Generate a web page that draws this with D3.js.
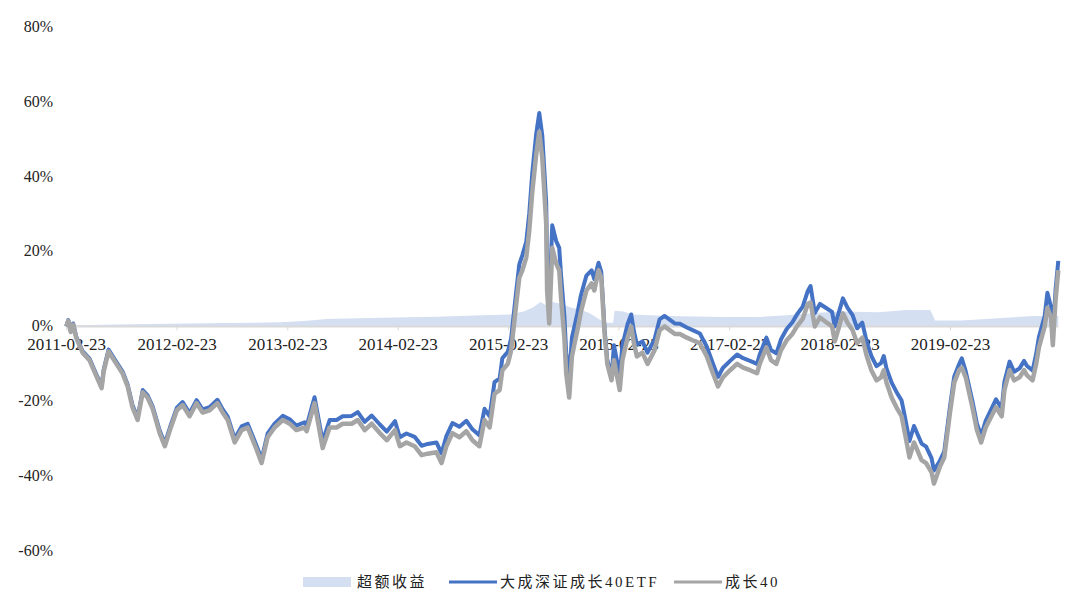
<!DOCTYPE html>
<html>
<head>
<meta charset="utf-8">
<script src="https://cdn.jsdelivr.net/npm/d3@7"></script>
<style>
  body { margin: 0; background: #fff; }
  text { font-family: "Liberation Serif", "Noto Sans CJK SC", serif; fill: #222; }
</style>
</head>
<body>
<script>
'use strict';

// legend names
let seriesNames = ["超额收益", "大成深证成长40ETF", "成长40"];

// y tick values (percent)
let yTicks = [80, 60, 40, 20, 0, -20, -40, -60];

// x tick labels
let xLabels = ["2011-02-23", "2012-02-23", "2013-02-23", "2014-02-23", "2015-02-23",
  "2016-02-23", "2017-02-23", "2018-02-23", "2019-02-23"];

// trading dates sampled from the chart
let dates = [
  "2011-02-23", "2011-03-02", "2011-03-10", "2011-03-18", "2011-03-28", "2011-04-18", "2011-05-11", "2011-05-27",
  "2011-06-20", "2011-06-27", "2011-07-13", "2011-08-08", "2011-08-28", "2011-09-14", "2011-09-30", "2011-10-17",
  "2011-11-03", "2011-11-19", "2011-12-06", "2011-12-29", "2012-01-15", "2012-02-01", "2012-02-24", "2012-03-14",
  "2012-04-06", "2012-04-29", "2012-05-19", "2012-06-11", "2012-07-07", "2012-07-24", "2012-08-10", "2012-09-02",
  "2012-09-25", "2012-10-15", "2012-11-14", "2012-11-30", "2012-12-20", "2013-01-12", "2013-02-08", "2013-03-03",
  "2013-03-25", "2013-04-21", "2013-04-28", "2013-05-24", "2013-06-20", "2013-07-13", "2013-08-05", "2013-08-25",
  "2013-09-24", "2013-10-14", "2013-11-06", "2013-11-29", "2013-12-26", "2014-01-18", "2014-02-14", "2014-03-02",
  "2014-03-24", "2014-04-20", "2014-05-13", "2014-06-02", "2014-07-01", "2014-07-18", "2014-08-03", "2014-08-23",
  "2014-09-15", "2014-10-08", "2014-10-28", "2014-11-20", "2014-12-07", "2014-12-24", "2015-01-09", "2015-01-26",
  "2015-02-04", "2015-02-22", "2015-03-05", "2015-03-22", "2015-04-01", "2015-04-11", "2015-04-24", "2015-05-04",
  "2015-05-14", "2015-05-27", "2015-06-06", "2015-06-16", "2015-06-29", "2015-07-02", "2015-07-09", "2015-07-19",
  "2015-08-01", "2015-08-11", "2015-08-17", "2015-08-28", "2015-09-03", "2015-09-13", "2015-09-22", "2015-10-10",
  "2015-10-22", "2015-11-09", "2015-11-26", "2015-12-05", "2015-12-19", "2015-12-28", "2016-01-08", "2016-01-17",
  "2016-01-31", "2016-02-08", "2016-02-27", "2016-03-07", "2016-03-24", "2016-04-05", "2016-04-14", "2016-04-24",
  "2016-05-12", "2016-05-29", "2016-06-21", "2016-07-08", "2016-07-24", "2016-08-10", "2016-08-27", "2016-09-13",
  "2016-10-06", "2016-10-25", "2016-11-18", "2016-12-11", "2016-12-31", "2017-01-17", "2017-02-02", "2017-02-26",
  "2017-03-21", "2017-04-10", "2017-05-03", "2017-05-26", "2017-06-04", "2017-06-26", "2017-07-11", "2017-07-29",
  "2017-08-13", "2017-09-01", "2017-09-20", "2017-10-05", "2017-10-24", "2017-11-10", "2017-11-19", "2017-12-03",
  "2017-12-20", "2018-01-12", "2018-01-29", "2018-02-07", "2018-03-06", "2018-03-21", "2018-04-07", "2018-04-22",
  "2018-05-09", "2018-05-24", "2018-06-08", "2018-06-25", "2018-07-10", "2018-07-19", "2018-07-28", "2018-08-14",
  "2018-08-30", "2018-09-16", "2018-09-25", "2018-10-12", "2018-10-27", "2018-11-21", "2018-12-06", "2018-12-24",
  "2019-01-01", "2019-01-20", "2019-02-04", "2019-02-23", "2019-03-09", "2019-03-25", "2019-04-03", "2019-04-16",
  "2019-05-08", "2019-05-23", "2019-06-06", "2019-06-21", "2019-07-10", "2019-07-25", "2019-08-13", "2019-08-22",
  "2019-09-08", "2019-09-23", "2019-10-11", "2019-10-26", "2019-11-04", "2019-11-23", "2019-12-05", "2019-12-14",
  "2020-01-02", "2020-01-11", "2020-01-23", "2020-01-29", "2020-02-07", "2020-02-16"
];

// 大成深证成长40ETF cumulative return (%)
let etfValues = [
  0, 1.7, -1.3, 0.8, -2.7, -6.6, -8.6, -11.6,
  -16, -11.5, -6.2, -9.5, -12, -15.5, -21, -24.4,
  -17, -18.4, -21.4, -27.8, -31.3, -27, -21.7, -20.2,
  -23.2, -19.7, -22.2, -21.6, -19.6, -22.1, -24.1, -30,
  -26.7, -26, -32, -35.5, -28.6, -26, -23.9, -24.8,
  -26.5, -25.6, -26.6, -18.9, -30.7, -25, -25, -24,
  -23.9, -22.9, -25.5, -23.8, -26.2, -28.1, -25.3, -29.6,
  -28.6, -29.5, -31.9, -31.4, -31, -33.9, -29.3, -25.8,
  -26.8, -25.2, -27.5, -29.1, -22, -24, -14.9, -13.9,
  -8.5, -6.8, -3.2, 9.4, 16.6, 19, 22.6, 30.2,
  41, 51.5, 57, 51, 33, 15, 6, 27,
  22.8, 21, 13.8, 2.8, -7, -13.8, -3, 3.5,
  8.4, 13.6, 15, 12.6, 17, 14.6, -0.8, -9,
  -13.4, -5, -13, -5, 0.6, 3.2, -1.3, -4.9,
  -4, -7, -3.5, 1.9, 2.8, 1.8, 0.8, 0.7,
  -0.3, -1, -1.9, -5.4, -9.9, -13.5, -11.1, -9.2,
  -7.5, -8.5, -9.2, -10, -7.5, -3, -6.3, -7.2,
  -3.5, -0.7, 1.1, 3.2, 5.3, 9.5, 10.8, 3.6,
  6, 4.8, 3.9, 0, 7.5, 5, 3, -0.5,
  1, -4.2, -7.9, -10.6, -9.8, -7.9, -11.2, -15,
  -17.5, -19.8, -23.4, -30.6, -26.6, -31.3, -32.1, -35.2,
  -38.5, -36, -33.4, -21.4, -13.4, -10.1, -8.5, -12,
  -19.9, -26, -29.2, -25.2, -22, -19.5, -21.9, -14.8,
  -9.4, -12.1, -11.2, -9.2, -10.5, -11.8, -7.3, -2.8,
  2.8, 9, 5.2, -2.2, 9.8, 17.5
];

// 成长40 index cumulative return (%)
let indexValues = [
  0, 1.5, -1.5, 0.5, -3, -7, -9, -12,
  -16.5, -12, -6.7, -10, -12.5, -16, -21.6, -25,
  -17.6, -19, -22, -28.5, -32, -27.7, -22.4, -21,
  -24, -20.5, -23, -22.4, -20.5, -23, -25, -31,
  -27.7, -27, -33, -36.5, -29.6, -27, -25, -26,
  -27.7, -27, -28, -20.5, -32.5, -27, -27, -26,
  -26, -25, -27.7, -26, -28.5, -30.4, -27.7, -32,
  -31, -32, -34.4, -34, -33.6, -36.5, -32, -28.5,
  -29.6, -28, -30.4, -32, -25, -27, -18, -17,
  -11.7, -10, -6.4, 6, 13, 15, 18.4, 25.6,
  36, 46, 52, 45, 27.5, 9.6, 0.8, 21,
  16.8, 15, 7.8, -3, -12.5, -19, -8, -1,
  4, 9.6, 11.5, 9.6, 15, 13, -2, -10,
  -14.4, -9, -17, -9, -3, 0, -4.5, -8,
  -7, -10, -6.4, -1, 0, -1, -2, -2,
  -3, -3.7, -4.5, -8, -12.5, -16, -13.6, -11.7,
  -10, -11, -11.7, -12.5, -10, -5.6, -9, -10,
  -6.4, -3.7, -2, 0, 2, 6, 6.4, 0,
  2.4, 1, 0, -4, 3.5, 1, -1, -4.5,
  -3, -8, -11.7, -14.4, -13.6, -11.7, -15, -19,
  -21.6, -24, -27.7, -35, -31, -35.7, -36.5, -39,
  -42, -37.6, -35, -23, -15, -11.7, -11, -13.6,
  -21.6, -27.7, -31, -27, -24, -21.6, -24, -17,
  -11.7, -14.4, -13.6, -11.7, -13, -14.4, -10, -5.6,
  0, 5, 2.4, -5, 7, 15
];

// 超额收益 (excess return, %)
let excessDates = [
  "2011-02-23", "2011-04-01", "2011-08-01", "2012-02-01", "2012-08-01", "2013-02-01", "2013-05-01", "2013-07-01",
  "2014-01-01", "2014-07-01", "2014-12-01", "2015-03-01", "2015-04-15", "2015-05-15", "2015-06-10", "2015-07-01",
  "2015-07-20", "2015-08-20", "2015-09-20", "2015-10-20", "2015-11-20", "2015-12-20", "2016-01-10", "2016-02-05",
  "2016-02-10", "2016-03-10", "2016-04-10", "2016-08-01", "2017-02-01", "2017-06-01", "2017-09-01", "2017-12-01",
  "2018-03-01", "2018-07-01", "2018-10-01", "2018-12-20", "2019-01-05", "2019-04-01", "2019-08-01", "2019-12-01",
  "2020-02-16"
];
let excessValues = [
  0, 0.3, 0.5, 0.7, 0.9, 1.1, 1.5, 2.0,
  2.3, 2.6, 3.0, 3.2, 4.0, 5.0, 6.5, 5.5,
  6.5, 6.0, 5.0, 4.5, 3.5, 2.0, 1.0, 1.0,
  4.2, 4.0, 3.2, 2.8, 2.5, 2.5, 3.0, 3.6,
  4.0, 3.8, 4.4, 4.4, 1.6, 1.6, 2.2, 2.8,
  2.8
];

let width = 1074, height = 603;
let parseDate = d3.timeParse("%Y-%m-%d");

let svg = d3.select("body").append("svg")
  .attr("width", width)
  .attr("height", height);

// scales
let xScale = d3.scaleTime()
  .domain([parseDate("2011-02-23"), parseDate("2019-02-23")])
  .range([66.2, 950]);
let yScale = d3.scaleLinear()
  .domain([-60, 80])
  .range([551, 27]);

let lineData = dates.map((d, i) => ({ date: parseDate(d), etf: etfValues[i], idx: indexValues[i] }));
let excessData = excessDates.map((d, i) => ({ date: parseDate(d), v: excessValues[i] }));

// excess area
svg.append("path")
  .datum(excessData)
  .attr("fill", "#d5dff2")
  .attr("d", d3.area()
    .x(d => xScale(d.date))
    .y0(yScale(0))
    .y1(d => yScale(d.v)));

// y labels
svg.append("g")
  .selectAll("text")
  .data(yTicks)
  .enter()
  .append("text")
  .attr("x", 53)
  .attr("y", d => yScale(d))
  .attr("dy", "0.3em")
  .attr("text-anchor", "end")
  .style("font-size", "16px")
  .text(d => d + "%");

// x axis at zero
let xAxis = d3.axisBottom(xScale)
  .tickValues(xLabels.map(parseDate))
  .tickFormat(d3.timeFormat("%Y-%m-%d"))
  .tickSize(4)
  .tickPadding(8);

let axisG = svg.append("g")
  .attr("transform", "translate(0," + yScale(0) + ")")
  .call(xAxis);
axisG.select(".domain")
  .attr("stroke", "#d9d9d9")
  .attr("stroke-width", 2)
  .attr("d", "M" + xScale(parseDate("2011-02-23")) + ",0H" + xScale(parseDate("2020-02-16")));
axisG.selectAll(".tick line").attr("stroke", "#d9d9d9");
axisG.selectAll(".tick text")
  .style("font-family", "Liberation Serif, serif")
  .style("font-size", "17px")
  .attr("fill", "#222");

// lines
let etfLine = d3.line().x(d => xScale(d.date)).y(d => yScale(d.etf));
let idxLine = d3.line().x(d => xScale(d.date)).y(d => yScale(d.idx));

svg.append("path")
  .datum(lineData)
  .attr("fill", "none")
  .attr("stroke", "#4472c4")
  .attr("stroke-width", 4)
  .attr("stroke-linejoin", "round")
  .attr("d", etfLine);

svg.append("path")
  .datum(lineData)
  .attr("fill", "none")
  .attr("stroke", "#a5a5a5")
  .attr("stroke-width", 4.5)
  .attr("stroke-linejoin", "round")
  .attr("d", idxLine);

// legend
let legend = svg.append("g").attr("transform", "translate(0,582)");
legend.append("rect")
  .attr("x", 303).attr("y", -5).attr("width", 48).attr("height", 10)
  .attr("fill", "#d5dff2");
legend.append("line")
  .attr("x1", 449).attr("x2", 497).attr("y1", 0).attr("y2", 0)
  .attr("stroke", "#4472c4").attr("stroke-width", 3);
legend.append("line")
  .attr("x1", 674).attr("x2", 722).attr("y1", 0).attr("y2", 0)
  .attr("stroke", "#a5a5a5").attr("stroke-width", 3);

let legendX = [357, 500, 725];
legend.selectAll(".ltext")
  .data(seriesNames)
  .enter()
  .append("text")
  .attr("class", "ltext")
  .attr("x", (d, i) => legendX[i])
  .attr("y", 0)
  .attr("dy", "0.35em")
  .style("font-size", "15px")
  .style("letter-spacing", "2.5px")
  .text(d => d);
</script>
</body>
</html>
